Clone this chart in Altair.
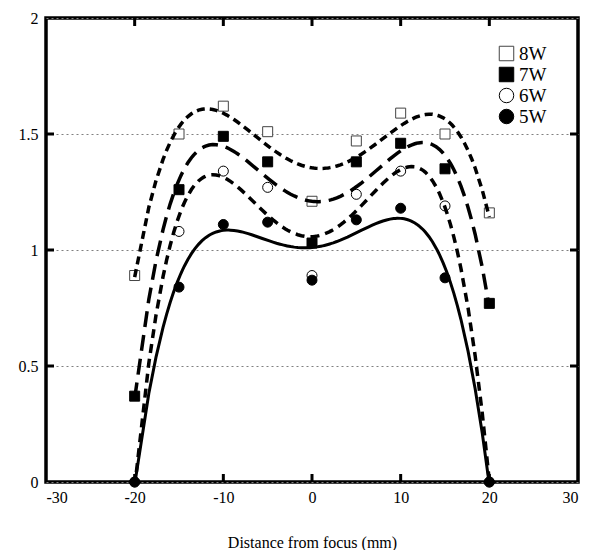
import altair as alt
import pandas as pd

# ---- data ----
positions = [-20, -15, -10, -5, 0, 5, 10, 15, 20]
series_names = ["8W", "7W", "6W", "5W"]
w8 = [0.89, 1.50, 1.62, 1.51, 1.21, 1.47, 1.59, 1.50, 1.16]
w7 = [0.37, 1.26, 1.49, 1.38, 1.03, 1.38, 1.46, 1.35, 0.77]
w6 = [0.00, 1.08, 1.34, 1.27, 0.89, 1.24, 1.34, 1.19, 0.00]
w5 = [0.00, 0.84, 1.11, 1.12, 0.87, 1.13, 1.18, 0.88, 0.00]
x_ticks = [-30, -20, -10, 0, 10, 20, 30]
y_ticks = [0, 0.5, 1, 1.5, 2]
inner_x_ticks = [-20, -10, 0, 10, 20]
inner_y_ticks = [0.5, 1, 1.5]

values = {"8W": w8, "7W": w7, "6W": w6, "5W": w5}
rows = []
for s in ["8W", "7W", "6W", "5W"]:
    for xv, yv in zip(positions, values[s]):
        rows.append({"x": xv, "y": yv, "series": s})
df = pd.DataFrame(rows)

W, H = 532, 464
FONT = "Liberation Serif"
AXFONT = "Times New Roman, Liberation Serif, serif"

xscale = alt.Scale(domain=[-30, 30], nice=False, zero=False)
yscale = alt.Scale(domain=[0, 2], nice=False)

xaxis = alt.Axis(values=x_ticks, labelExpr="datum.value + ''", title="Distance from focus (mm)",
                 grid=False, ticks=False, domain=False, labelPadding=7, titlePadding=29,
                 labelFont=AXFONT, titleFont=FONT, labelColor="black", titleColor="black",
                 labelFontSize=16, titleFontSize=16, titleFontWeight="normal")
yaxis = alt.Axis(values=y_ticks, labelExpr="datum.value + ''", title=None,
                 grid=True, gridDash=[2, 3], gridColor="#808080", gridWidth=1,
                 labelFont=AXFONT, labelColor="black",
                 ticks=False, domain=False, labelPadding=8, labelFontSize=16)

X = alt.X("x:Q", scale=xscale, axis=xaxis)
Y = alt.Y("y:Q", scale=yscale, axis=yaxis)

base = alt.Chart(df)

dash = {"8W": [8, 5], "7W": [16, 8], "6W": [9, 6], "5W": []}
widths = {"8W": 3.5, "7W": 3.5, "6W": 3.5, "5W": 3}

lines = []
for s in series_names:
    kw = dict(color="black", strokeWidth=widths[s], clip=True)
    if dash[s]:
        kw["strokeDash"] = dash[s]
    lines.append(
        base.transform_filter(alt.datum.series == s)
        .transform_regression("x", "y", method="poly", order=4, extent=[-20, 20])
        .mark_line(**kw)
        .encode(x=X, y=Y)
    )

points = base.mark_point(filled=True, strokeWidth=1, opacity=1, size=100).encode(
    x=X, y=Y,
    shape=alt.Shape("series:N", scale=alt.Scale(domain=series_names,
                    range=["square", "square", "circle", "circle"]),
                    legend=alt.Legend(title=None, orient="none", legendX=451, legendY=26,
                                      labelFont=FONT, labelFontSize=19, symbolSize=210,
                                      symbolStrokeWidth=1, labelColor="black",
                                      rowPadding=1, labelOffset=3, padding=0)),
    fill=alt.Fill("series:N", scale=alt.Scale(domain=series_names,
                  range=["white", "black", "white", "black"])),
    stroke=alt.Stroke("series:N", scale=alt.Scale(domain=series_names,
                      range=["#444444", "black", "black", "black"])),
)

# inward ticks, positioned through the scales
tick_x_df = pd.DataFrame({"x": inner_x_ticks})
tick_y_df = pd.DataFrame({"y": inner_y_ticks})
TX = 8 / H * 2      # 8 px in y data units
TY = 8 / W * 60     # 8 px in x data units
bottom_ticks = alt.Chart(tick_x_df).mark_rule(stroke="black", strokeWidth=3).encode(
    x=X, y=alt.datum(0), y2=alt.datum(TX))
top_ticks = alt.Chart(tick_x_df).mark_rule(stroke="black", strokeWidth=3).encode(
    x=X, y=alt.datum(2), y2=alt.datum(2 - TX))
left_ticks = alt.Chart(tick_y_df).mark_rule(stroke="black", strokeWidth=3).encode(
    y=Y, x=alt.datum(-30), x2=alt.datum(-30 + TY))
right_ticks = alt.Chart(tick_y_df).mark_rule(stroke="black", strokeWidth=3).encode(
    y=Y, x=alt.datum(30), x2=alt.datum(30 - TY))

chart = alt.layer(
    points, *lines, bottom_ticks, top_ticks, left_ticks, right_ticks
).properties(
    width=W, height=H,
    autosize=alt.AutoSizeParams(type="none"),
    padding={"left": 38, "top": 10, "right": 4, "bottom": 68},
).configure(
    font=FONT
).configure_view(
    stroke="black", strokeWidth=3.5
).configure_axis(
    labelFont=AXFONT, titleFont=FONT
).configure_legend(
    labelFont=FONT, labelColor="black"
)

chart.save("out.html", embed_options={"renderer": "svg", "actions": False})
